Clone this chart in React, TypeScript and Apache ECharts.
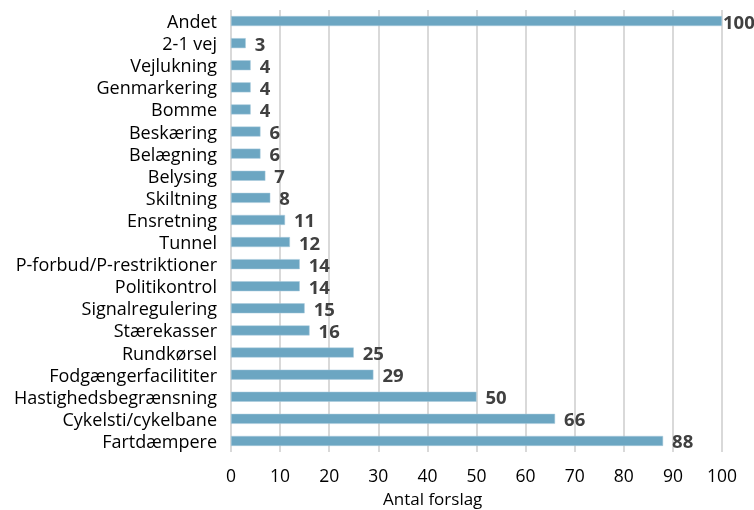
import React, { useEffect, useRef } from "react";
import * as echarts from "echarts";

const categories = [
  "Andet", "2-1 vej", "Vejlukning", "Genmarkering", "Bomme", "Beskæring", "Belægning",
  "Belysing", "Skiltning", "Ensretning", "Tunnel", "P-forbud/P-restriktioner", "Politikontrol",
  "Signalregulering", "Stærekasser", "Rundkørsel", "Fodgængerfacilititer",
  "Hastighedsbegrænsning", "Cykelsti/cykelbane", "Fartdæmpere",
];
const values = [100, 3, 4, 4, 4, 6, 6, 7, 8, 11, 12, 14, 14, 15, 16, 25, 29, 50, 66, 88];
const xTicks = { min: 0, max: 100, interval: 10 };
const axisTitle = "Antal forslag";

const FONT = "'Open Sans', sans-serif";

export default function App() {
  const ref = useRef<HTMLDivElement>(null);
  useEffect(() => {
    if (!ref.current) return;
    const chart = echarts.init(ref.current, null, { renderer: "svg" });
    chart.setOption({
      animation: false,
      grid: { left: 231, right: 32, top: 10, bottom: 58, containLabel: false },
      xAxis: {
        type: "value",
        min: xTicks.min,
        max: xTicks.max,
        interval: xTicks.interval,
        axisLine: { show: false },
        axisTick: { show: false },
        splitLine: { show: true, lineStyle: { color: "#d9d9d9", width: 2 } },
        axisLabel: { color: "#000", fontSize: 17.5, fontFamily: FONT, margin: 14 },
      },
      yAxis: {
        type: "category",
        data: categories,
        inverse: true,
        axisLine: { show: false },
        axisTick: { show: false },
        axisLabel: {
          color: "#000",
          fontSize: 18,
          lineHeight: 20,
          fontFamily: FONT,
          margin: 14,
          interval: 0,
        },
      },
      graphic: [
        {
          type: "text",
          left: 383,
          top: 490,
          style: { text: axisTitle, fill: "#000", fontSize: 17, fontFamily: FONT },
        },
      ],
      series: [
        {
          type: "bar",
          barWidth: 10,
          data: values.map((v, i) => ({
            value: v,
            label: i === 0 ? { distance: 1 } : undefined,
          })),
          itemStyle: { color: "#6ca6c2", borderColor: "#a9cbdc", borderWidth: 0.5 },
          label: {
            show: true,
            position: "right",
            distance: 9,
            color: "#404040",
            fontSize: 18.5,
            lineHeight: 20,
            fontWeight: "bold",
            fontFamily: FONT,
          },
        },
      ],
    });
    return () => chart.dispose();
  }, []);
  return (
    <div
      ref={ref}
      style={{ position: "fixed", left: 0, top: 0, width: 754, height: 510 }}
    />
  );
}
